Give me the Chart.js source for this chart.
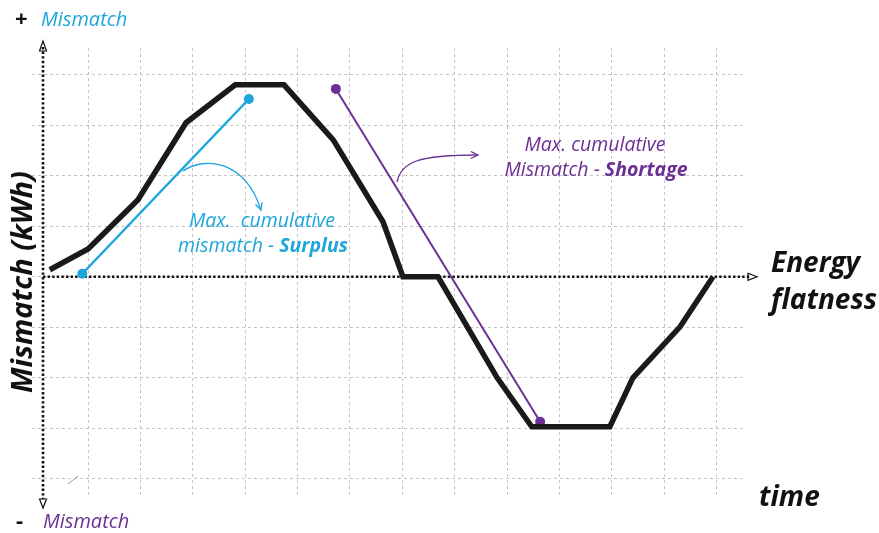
<!DOCTYPE html>
<html>
<head>
<meta charset="utf-8">
<script src="https://cdn.jsdelivr.net/npm/chart.js@4/dist/chart.umd.min.js"></script>
<style>
  html, body { margin: 0; padding: 0; background: #fff; }
  #wrap { width: 879px; height: 533px; }
</style>
</head>
<body>
<div id="wrap"><canvas id="myChart"></canvas></div>
<script>
// cumulative mismatch curve (x = time in grid steps, y = mismatch in grid steps)
const timeX = [-0.73, 0, 0.95, 1.87, 2.81, 3.74, 4.68, 5.63, 6.01, 6.68, 7.81, 8.47, 9.96, 10.4, 11.3, 11.93];
const mismatchY = [0.14, 0.55, 1.52, 3.05, 3.8, 3.8, 2.71, 1.09, 0, 0, -2.0, -2.97, -2.97, -2.0, -0.99, 0];

// max cumulative surplus / shortage lines
const surplusX = [-0.11, 3.07];
const surplusY = [0.06, 3.52];
const shortageX = [4.73, 8.63];
const shortageY = [3.72, -2.87];

// grid positions
const xTicks = [0, 1, 2, 3, 4, 5, 6, 7, 8, 9, 10, 11, 12];
const yTicks = [-4, -3, -2, -1, 0, 1, 2, 3, 4];

const BLUE = '#1ea5dc';
const PURPLE = '#6c2f93';
const FONT = '"Open Sans", Lato, sans-serif';

function toPoints(xs, ys) {
    return xs.map((x, i) => ({ x: x, y: ys[i] }));
}

function arrowHead(ctx, x, y, angle, size) {
    ctx.beginPath();
    ctx.moveTo(x - size * Math.cos(angle - 0.45), y - size * Math.sin(angle - 0.45));
    ctx.lineTo(x, y);
    ctx.lineTo(x - size * Math.cos(angle + 0.45), y - size * Math.sin(angle + 0.45));
    ctx.stroke();
}

// write "normal + bold" text centred on cx
function mixedLine(ctx, normal, bold, cx, y, size) {
    ctx.font = 'italic ' + size + 'px ' + FONT;
    const w1 = ctx.measureText(normal).width;
    ctx.font = 'italic bold ' + size + 'px ' + FONT;
    const w2 = ctx.measureText(bold).width;
    const left = cx - (w1 + w2) / 2;
    ctx.textAlign = 'left';
    ctx.font = 'italic ' + size + 'px ' + FONT;
    ctx.fillText(normal, left, y);
    ctx.font = 'italic bold ' + size + 'px ' + FONT;
    ctx.fillText(bold, left + w1, y);
}

// dotted axes with arrows, under the lines
const axesPlugin = {
    id: 'axes',
    beforeDatasetsDraw(chart) {
        const ctx = chart.ctx;
        const sx = chart.scales.x, sy = chart.scales.y;
        const x0 = sx.getPixelForValue(-0.86);
        const y0 = sy.getPixelForValue(0);
        ctx.save();
        ctx.strokeStyle = '#111';
        ctx.lineWidth = 2.6;
        ctx.setLineDash([2.4, 2.2]);
        ctx.beginPath();
        ctx.moveTo(x0, 47);
        ctx.lineTo(x0, 499);
        ctx.moveTo(x0, y0);
        ctx.lineTo(750, y0);
        ctx.stroke();
        ctx.setLineDash([]);
        ctx.lineWidth = 1.2;
        // up arrow
        ctx.beginPath();
        ctx.moveTo(x0 - 3.5, 51); ctx.lineTo(x0, 41); ctx.lineTo(x0 + 3.5, 51); ctx.closePath();
        ctx.stroke();
        // down arrow
        ctx.beginPath();
        ctx.moveTo(x0 - 3.5, 499); ctx.lineTo(x0, 508); ctx.lineTo(x0 + 3.5, 499); ctx.closePath();
        ctx.stroke();
        // right arrow
        ctx.beginPath();
        ctx.moveTo(748, y0 - 3.5); ctx.lineTo(757, y0); ctx.lineTo(748, y0 + 3.5); ctx.closePath();
        ctx.stroke();
        ctx.restore();
    }
};

// texts and annotation arrows
const labelsPlugin = {
    id: 'labels',
    afterDraw(chart) {
        const ctx = chart.ctx;
        ctx.save();
        ctx.textBaseline = 'alphabetic';

        // +/- Mismatch
        ctx.textAlign = 'left';
        ctx.fillStyle = '#111';
        ctx.font = 'bold 22px ' + FONT;
        ctx.fillText('+', 15, 26);
        ctx.fillText('-', 16, 528);
        ctx.font = 'italic 20px ' + FONT;
        ctx.fillStyle = BLUE;
        ctx.fillText('Mismatch', 41, 26);
        ctx.fillStyle = PURPLE;
        ctx.fillText('Mismatch', 43, 528);

        // axis titles
        ctx.fillStyle = '#111';
        ctx.font = 'italic bold 28px ' + FONT;
        ctx.fillText('Energy', 771, 272);
        ctx.fillText('flatness', 771, 309);
        ctx.fillText('time', 759, 506);
        ctx.save();
        ctx.translate(24, 282);
        ctx.rotate(-Math.PI / 2);
        ctx.textAlign = 'center';
        ctx.textBaseline = 'middle';
        ctx.font = 'italic bold 29px ' + FONT;
        ctx.fillText('Mismatch (kWh)', 0, 0);
        ctx.restore();

        // surplus annotation
        ctx.fillStyle = BLUE;
        ctx.textAlign = 'center';
        ctx.font = 'italic 19.5px ' + FONT;
        ctx.fillText('Max.  cumulative', 262, 227);
        mixedLine(ctx, 'mismatch - ', 'Surplus', 263, 252, 19.5);

        ctx.strokeStyle = BLUE;
        ctx.lineWidth = 1.3;
        ctx.beginPath();
        ctx.moveTo(183, 171);
        ctx.bezierCurveTo(205, 156, 245, 160, 261, 210);
        ctx.stroke();
        arrowHead(ctx, 261, 210, Math.atan2(50, 16), 8);

        // shortage annotation
        ctx.fillStyle = PURPLE;
        ctx.textAlign = 'center';
        ctx.font = 'italic 19.5px ' + FONT;
        ctx.fillText('Max. cumulative', 595, 151);
        mixedLine(ctx, 'Mismatch - ', 'Shortage', 596, 176, 19.5);

        ctx.strokeStyle = PURPLE;
        ctx.beginPath();
        ctx.moveTo(397, 182);
        ctx.bezierCurveTo(401, 162, 418, 155, 478, 155);
        ctx.stroke();
        arrowHead(ctx, 478, 155, 0, 8);

        // small stray tick near the bottom left
        ctx.strokeStyle = '#999';
        ctx.lineWidth = 1;
        ctx.beginPath();
        ctx.moveTo(68, 484);
        ctx.lineTo(78, 476);
        ctx.stroke();

        ctx.restore();
    }
};

var ctx = document.getElementById('myChart').getContext('2d');
var myChart = new Chart(ctx, {
    type: 'scatter',
    data: {
        datasets: [{
            label: 'mismatch',
            data: toPoints(timeX, mismatchY),
            showLine: true,
            borderColor: '#1a1a1a',
            borderWidth: 5.5,
            pointRadius: 0,
            borderJoinStyle: 'miter',
            clip: false
        }, {
            label: 'surplus',
            data: toPoints(surplusX, surplusY),
            showLine: true,
            borderColor: BLUE,
            backgroundColor: BLUE,
            borderWidth: 2.5,
            pointRadius: 5,
            pointBorderWidth: 0,
            clip: false
        }, {
            label: 'shortage',
            data: toPoints(shortageX, shortageY),
            showLine: true,
            borderColor: PURPLE,
            backgroundColor: PURPLE,
            borderWidth: 2,
            pointRadius: 5,
            pointBorderWidth: 0,
            clip: false
        }]
    },
    options: {
        responsive: true,
        maintainAspectRatio: false,
        animation: false,
        layout: { padding: { left: 32, right: 134, top: 48, bottom: 35 } },
        plugins: { legend: { display: false }, tooltip: { enabled: false } },
        scales: {
            x: {
                type: 'linear',
                min: -1.07,
                max: 12.54,
                afterBuildTicks: (scale) => { scale.ticks = xTicks.map(v => ({ value: v })); },
                ticks: { display: false },
                grid: { color: '#c4c4c4', lineWidth: 1, drawTicks: false },
                border: { display: false, dash: [3, 3] }
            },
            y: {
                type: 'linear',
                min: -4.38,
                max: 4.53,
                afterBuildTicks: (scale) => { scale.ticks = yTicks.map(v => ({ value: v })); },
                ticks: { display: false },
                grid: { color: '#c4c4c4', lineWidth: 1, drawTicks: false },
                border: { display: false, dash: [3, 3] }
            }
        }
    },
    plugins: [axesPlugin, labelsPlugin]
});
</script>
</body>
</html>
